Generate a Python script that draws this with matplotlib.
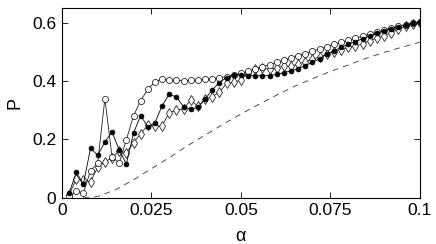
import numpy as np
import matplotlib
matplotlib.use("Agg")
import matplotlib.pyplot as plt

plt.rcParams["font.family"] = ["Liberation Sans", "DejaVu Sans"]

# alpha grid: 0.002 ... 0.1
alpha = np.arange(1, 51) * 0.002

p_filled = [0.016, 0.087, 0.048, 0.170, 0.146, 0.191, 0.226, 0.164, 0.116, 0.222,
            0.282, 0.243, 0.257, 0.316, 0.355, 0.345, 0.312, 0.303, 0.310, 0.338,
            0.370, 0.395, 0.412, 0.421, 0.422, 0.419, 0.418, 0.418, 0.419, 0.423,
            0.429, 0.435, 0.443, 0.453, 0.464, 0.477, 0.492, 0.504, 0.515, 0.526,
            0.535, 0.545, 0.554, 0.563, 0.572, 0.579, 0.586, 0.592, 0.598, 0.603]

p_circle = [0.005, 0.022, 0.018, 0.093, 0.120, 0.340, 0.140, 0.119, 0.199, 0.281,
            0.333, 0.372, 0.397, 0.408, 0.405, 0.402, 0.401, 0.402, 0.404, 0.406,
            0.408, 0.411, 0.415, 0.420, 0.426, 0.434, 0.442, 0.449, 0.456, 0.464,
            0.472, 0.479, 0.487, 0.494, 0.502, 0.510, 0.518, 0.526, 0.533, 0.540,
            0.547, 0.554, 0.561, 0.568, 0.575, 0.582, 0.588, 0.593, 0.598, 0.603]

p_diamond = [0.010, 0.065, 0.060, 0.055, 0.105, 0.123, 0.138, 0.160, 0.155, 0.188,
             0.220, 0.248, 0.245, 0.247, 0.292, 0.300, 0.305, 0.336, 0.313, 0.338,
             0.347, 0.362, 0.392, 0.396, 0.403, 0.428, 0.442, 0.445, 0.440, 0.445,
             0.452, 0.450, 0.458, 0.466, 0.474, 0.483, 0.492, 0.501, 0.508, 0.515,
             0.520, 0.528, 0.538, 0.547, 0.555, 0.566, 0.577, 0.587, 0.594, 0.599]

# dashed reference curve
alpha_ref = [0.006, 0.008, 0.010, 0.015, 0.020, 0.025, 0.030, 0.035, 0.040, 0.045,
             0.050, 0.055, 0.060, 0.065, 0.070, 0.075, 0.080, 0.085, 0.090, 0.095, 0.100]
p_ref = [0.0, 0.001, 0.005, 0.028, 0.062, 0.100, 0.138, 0.178, 0.215, 0.252,
         0.287, 0.320, 0.352, 0.382, 0.408, 0.433, 0.455, 0.478, 0.498, 0.516, 0.533]

fig = plt.figure(figsize=(4.36, 2.44), dpi=100)
ax = fig.add_axes([0.142, 0.189, 0.821, 0.778])

ax.plot(alpha_ref, p_ref, color="#333333", lw=0.6, ls=(0, (7, 6)))
ax.plot(alpha, p_diamond, color="#222222", lw=0.6, marker="d", ms=4.6,
        mfc="white", mec="black", mew=0.5)
ax.plot(alpha, p_circle, color="#222222", lw=0.6, marker="o", ms=4.4,
        mfc="white", mec="black", mew=0.5)
ax.plot(alpha, p_filled, color="black", lw=0.6, marker="o", ms=3.5,
        mfc="black", mec="black", mew=0.5)

ax.set_xlim(0, 0.1)
ax.set_ylim(0, 0.65)
ax.set_xticks([0, 0.025, 0.05, 0.075, 0.1])
ax.set_xticklabels(["0", "0.025", "0.05", "0.075", "0.1"])
ax.set_yticks([0, 0.2, 0.4, 0.6])
ax.set_yticklabels(["0", "0.2", "0.4", "0.6"])
ax.tick_params(direction="in", top=True, right=True, length=4, width=0.6,
               labelsize=12.5, pad=4)
for s in ax.spines.values():
    s.set_linewidth(0.8)

ax.set_xlabel("α", fontsize=13, labelpad=7)
ax.set_ylabel("P", fontsize=13, labelpad=6)

fig.savefig("out.png", dpi=100)
